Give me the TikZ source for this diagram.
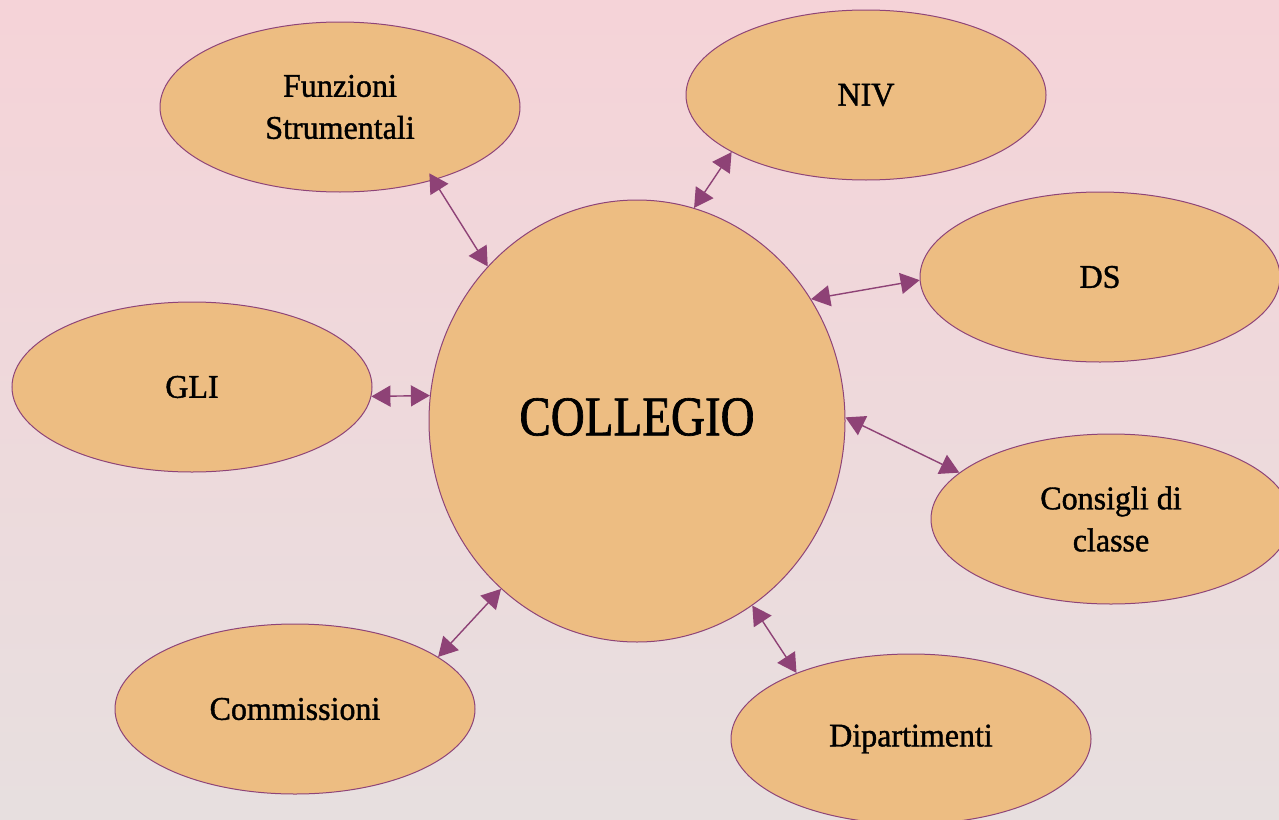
\documentclass[tikz,border=0pt]{standalone}
\usepackage{fontspec}
\setmainfont{Liberation Serif}
\newfontfamily\narrowf[FakeStretch=0.84,FakeBold=1.2]{Liberation Serif}
\newfontfamily\labf[FakeStretch=0.97,FakeBold=1.2]{Liberation Serif}
\usetikzlibrary{arrows.meta,shapes.geometric}
\definecolor{bgA}{RGB}{245,211,216}
\definecolor{bgB}{RGB}{231,223,223}
\definecolor{fillc}{RGB}{237,189,130}
\definecolor{edgec}{RGB}{142,68,120}
\definecolor{arrc}{RGB}{142,66,118}
\tikzset{
  sat/.style={ellipse, draw=edgec, line width=1pt, fill=fillc, minimum width=360pt, minimum height=170pt, inner sep=0pt, align=center, font=\fontsize{33}{42}\selectfont\labf},
  hub/.style={ellipse, draw=edgec, line width=1pt, fill=fillc, minimum width=416pt, minimum height=442pt, inner sep=0pt},
  hubtext/.style={font=\fontsize{56}{60}\selectfont\narrowf, inner sep=0pt},
  link/.style={arrc, line width=1.4pt, {Triangle[length=19pt,width=21pt]}-{Triangle[length=19pt,width=21pt]}}
}
\begin{document}
\begin{tikzpicture}[x=1pt,y=-1pt]
\useasboundingbox (0,0) rectangle (1279,819);
\shade[shading angle=125, top color=bgA, bottom color=bgB] (0,0) rectangle (1279,819);
\node[hub] (col) at (637,421) {};
\node[hubtext] (colt) at (637,417) {COLLEGIO};
\node[sat] (fs) at (340,107) {Funzioni\\Strumentali};
\node[sat] (niv) at (866,95) {NIV};
\node[sat] (ds) at (1100,277) {DS};
\node[sat] (gli) at (192,387) {GLI};
\node[sat] (cdc) at (1111,519) {Consigli di\\classe};
\node[sat] (com) at (295,709) {Commissioni};
\node[sat] (dip) at (911,739) {Dipartimenti};
\draw[link, shorten <=-8pt] (fs.-38) -- (col.134);
\draw[link] (niv.203) -- (col.75);
\draw[link] (ds.181.6) -- (col.35);
\draw[link] (gli.-3) -- (col.173.4);
\draw[link] (cdc.163) -- (col.1);
\draw[link] (com.20) -- (col.231);
\draw[link] (dip.150) -- (col.302);
\end{tikzpicture}
\end{document}
